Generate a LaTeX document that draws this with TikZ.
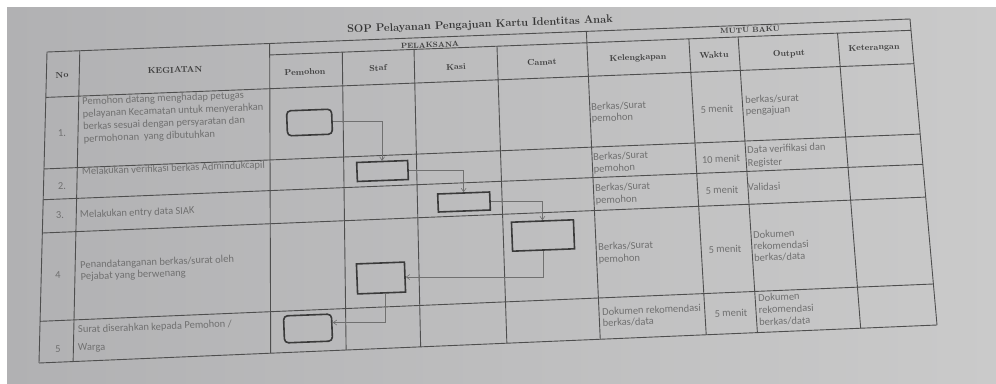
\documentclass[tikz,border=0pt]{standalone}
\usepackage{fontspec}
\newfontfamily\bodyfont{Carlito}
\usetikzlibrary{arrows.meta}
\definecolor{paperL}{HTML}{B1B1B3}
\definecolor{paperM}{HTML}{C7C7C7}
\definecolor{paperR}{HTML}{CACACA}
\definecolor{linec}{HTML}{4E4E4E}
\definecolor{boxc}{HTML}{3A3A3A}
\definecolor{connc}{HTML}{707070}
\definecolor{txtc}{HTML}{707070}
\definecolor{hdrc}{HTML}{3E3E3E}
\tikzset{sopgrid/.cd, u/.store in=\sopu, v/.store in=\sopv, u=0, v=0}
\tikzdeclarecoordinatesystem{sop}{%
  \tikzset{sopgrid/.cd,#1}%
  \pgfmathsetmacro\sopx{(1-\sopv)*(47+\sopu*863)+\sopv*(39+\sopu*898)}%
  \pgfmathsetmacro\sopy{(1-\sopv)*(52-\sopu*33)+\sopv*(363-\sopu*38)}%
  \pgfpointxy{\sopx}{\sopy}%
}
\tikzset{
  tbl/.style={draw=linec, line width=0.9pt},
  procbox/.style={draw=boxc, line width=1.6pt, rotate=2.2, inner sep=0pt},
  termbox/.style={procbox, rounded corners=4pt},
  conn/.style={draw=connc, line width=0.6pt, -{Straight Barb[length=3.5pt,width=5pt]}},
  body/.style={font=\bodyfont\fontsize{10.5}{12.5}\selectfont, text=txtc, rotate=2.2, inner sep=0pt, align=left, anchor=base west},
  mbody/.style={body, anchor=north west},
  num/.style={font=\bodyfont\fontsize{10.5}{12.5}\selectfont, text=txtc, rotate=2.2, inner sep=0pt},
  hdr/.style={font=\bfseries\fontsize{8.5}{10}\selectfont, text=hdrc, rotate=2.2, inner sep=0pt},
}
\begin{document}
\begin{tikzpicture}[x=1pt,y=-1pt]
\useasboundingbox (0,0) rectangle (996,383);
\fill[white] (0,0) rectangle (996,383);
\shade[left color=paperL, middle color=paperM, right color=paperR] (7,7) rectangle (996,383);

% table grid
\foreach \rr in {0,0.146,0.376,0.475,0.582,0.866,1}
  \draw[tbl] (sop cs:u=0,v=\rr) -- (sop cs:u=1,v=\rr);
\draw[tbl] (sop cs:u=0.258,v=0.037) -- (sop cs:u=1,v=0.037);
\foreach \cc in {0,0.038,0.258,0.625,1}
  \draw[tbl] (sop cs:u=\cc,v=0) -- (sop cs:u=\cc,v=1);
\foreach \cc in {0.342,0.425,0.521,0.743,0.800,0.915}
  \draw[tbl] (sop cs:u=\cc,v=0.037) -- (sop cs:u=\cc,v=1);

% title and headers
\node[hdr, font=\bfseries\fontsize{11}{13}\selectfont, text=hdrc!85!black] (title) at (480,25) {SOP Pelayanan Pengajuan Kartu Identitas Anak};
\node[hdr] (hno) at (62,75) {No};
\node[hdr] (hkeg) at (175,70) {KEGIATAN};
\node[hdr, font=\bfseries\fontsize{7.5}{9}\selectfont] (hpel) at (430,45) {PELAKSANA};
\node[hdr] (hpem) at (305,72) {Pemohon};
\node[hdr] (hstaf) at (378,68) {Staf};
\node[hdr] (hkasi) at (456,67) {Kasi};
\node[hdr] (hcam) at (542,62) {Camat};
\node[hdr, font=\bfseries\fontsize{7.5}{9}\selectfont] (hmutu) at (750,30) {MUTU BAKU};
\node[hdr] (hkel) at (638,58) {Kelengkapan};
\node[hdr] (hwak) at (714,55) {Waktu};
\node[hdr] (hout) at (789,54) {Output};
\node[hdr] (hket) at (874,48) {Keterangan};

% numbers
\node[num] (n1) at (62,133) {1.};
\node[num] (n2) at (62,186) {2.};
\node[num] (n3) at (60,215) {3.};
\node[num] (n4) at (58,275) {4};
\node[num] (n5) at (58,349) {5};

% kegiatan
\node[mbody] (k1) at (82,97.3) {Pemohon datang menghadap petugas\\pelayanan Kecamatan untuk menyerahkan\\berkas sesuai dengan persyaratan dan\\permohonan\ \ yang dibutuhkan};
\node[body] (k2) at (82,175) {Melakukan verifikasi berkas Admindukcapil};
\node[body] (k3) at (80,218) {Melakukan entry data SIAK};
\node[mbody, font=\bodyfont\fontsize{10.5}{11.8}\selectfont] (k4) at (80,260.8) {Penandatanganan berkas/surat oleh\\Pejabat yang berwenang};
\node[body] (k5a) at (78,333) {Surat diserahkan kepada Pemohon /};
\node[body] (k5b) at (78,351) {Warga};

% kelengkapan
\node[mbody, font=\bodyfont\fontsize{10.5}{11.5}\selectfont] (l1) at (591,102.8) {Berkas/Surat\\pemohon};
\node[mbody, font=\bodyfont\fontsize{10.5}{12}\selectfont] (l2) at (593,152.8) {Berkas/Surat\\pemohon};
\node[mbody, font=\bodyfont\fontsize{10.5}{12.5}\selectfont] (l3) at (595,183.8) {Berkas/Surat\\pemohon};
\node[mbody, font=\bodyfont\fontsize{10.5}{12.5}\selectfont] (l4) at (598,242.8) {Berkas/Surat\\pemohon};
\node[mbody, font=\bodyfont\fontsize{10.5}{11.2}\selectfont] (l5) at (602,307.8) {Dokumen rekomendasi\\berkas/data};

% waktu
\node[num] (w1) at (717,109) {5 menit};
\node[num] (w2) at (721,159) {10 menit};
\node[num] (w3) at (722,190) {5 menit};
\node[num] (w4) at (725,249) {5 menit};
\node[num] (w5) at (731,313) {5 menit};

% output
\node[mbody, font=\bodyfont\fontsize{10.5}{11.2}\selectfont] (o1) at (745,95.8) {berkas/surat\\pengajuan};
\node[mbody, font=\bodyfont\fontsize{10.5}{13}\selectfont] (o2) at (747,145.8) {Data verifikasi dan\\Register};
\node[body] (o3) at (748,191) {Validasi};
\node[mbody, font=\bodyfont\fontsize{10.5}{11.5}\selectfont] (o4) at (753,230.8) {Dokumen\\rekomendasi\\berkas/data};
\node[mbody, font=\bodyfont\fontsize{10.5}{12.2}\selectfont] (o5) at (758,293.8) {Dokumen\\rekomendasi\\berkas/data};

% flow boxes
\node[termbox, minimum width=45pt, minimum height=25pt] (b1) at (309.5,122.5) {};
\node[procbox, minimum width=51pt, minimum height=19pt] (b2) at (382.5,171) {};
\node[procbox, minimum width=52pt, minimum height=18pt] (b3) at (464,202) {};
\node[procbox, minimum width=62pt, minimum height=29pt] (b4) at (543,235.5) {};
\node[procbox, minimum width=48pt, minimum height=30pt] (b5) at (381,278) {};
\node[termbox, minimum width=48pt, minimum height=27pt] (b6) at (308,328.5) {};

% connectors
\draw[conn] (b1.east) -| (b2.north);
\draw[conn] (b2.east) -| (b3.north);
\draw[conn] (b3.east) -| (b4.north);
\draw[conn] (b4.south) |- (b5.east);
\draw[conn] ([xshift=4pt]b5.south) |- ([yshift=5pt]b6.east);
\end{tikzpicture}
\end{document}
